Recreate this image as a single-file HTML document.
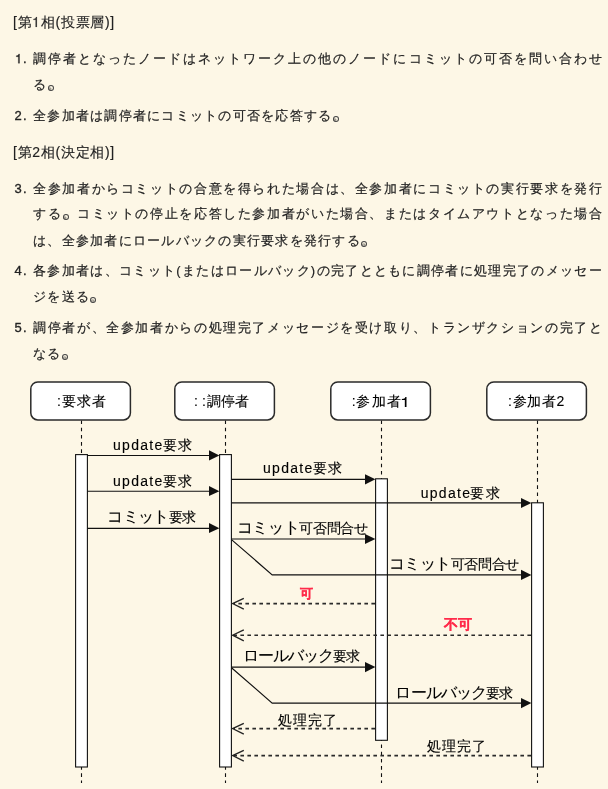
<!DOCTYPE html>
<html><head><meta charset="utf-8">
<style>
html,body{margin:0;padding:0}
body{background:#fdf7e6;width:608px;height:789px;overflow:hidden;position:relative;font-family:"Liberation Sans",sans-serif;font-size:13px;color:#222}
.t{position:absolute;left:33px;width:570px;height:20px;line-height:20px;white-space:nowrap;letter-spacing:1.25px}
.j{text-align:justify;text-align-last:justify;white-space:nowrap}
.n{position:absolute;left:14.5px;height:20px;line-height:20px;letter-spacing:1.25px}
.h{position:absolute;left:13px;height:20px;line-height:20px;white-space:nowrap;letter-spacing:0.7px;font-size:14px}
svg{position:absolute;left:0;top:0}
svg text{font-family:"Liberation Sans",sans-serif;font-size:14px;fill:#000;stroke:#000;stroke-width:0.12px}
.red{fill:#ff2a4a;stroke:#ff2a4a;stroke-width:0.2px;font-weight:bold}
.m{position:relative;color:transparent}
.m::after{content:"";position:absolute;left:0.3px;top:8px;width:4.2px;height:4px;border:1.1px solid #444;border-radius:50%}
#w{position:absolute;left:0;top:0;width:608px;height:789px;will-change:transform}
.t{-webkit-text-stroke:0.2px #222}
.n{-webkit-text-stroke:0.35px #222}
.h{-webkit-text-stroke:0.15px #222}
.one{position:static;display:inline;width:0.556em;height:0.709em;overflow:visible;fill:#222;stroke:#222;stroke-width:20px;vertical-align:baseline}
.n .one{margin-right:1.25px;stroke-width:27px}
.h .one{margin-right:0.7px;stroke-width:11px}
.kk{font-size:16px}
</style></head><body><div id="w">
<div class="h" style="top:12px">[第<svg class="one" viewBox="0 -709 556 709"><path transform="scale(1,-1)" d="M259 505H102V568Q204 581 235.0 604.0Q266 627 289 709H347V0H259Z"/></svg>相(投票層)]</div>
<div class="n" style="top:49px"><svg class="one" viewBox="0 -709 556 709"><path transform="scale(1,-1)" d="M259 505H102V568Q204 581 235.0 604.0Q266 627 289 709H347V0H259Z"/></svg>.</div>
<div class="t j" style="top:49px">調停者となったノードはネットワーク上の他のノードにコミットの可否を問い合わせ</div>
<div class="t" style="top:75px">る<span class="m">。</span></div>
<div class="n" style="top:106px">2.</div>
<div class="t" style="top:106px">全参加者は調停者にコミットの可否を応答する<span class="m">。</span></div>
<div class="h" style="top:142px">[第2相(決定相)]</div>
<div class="n" style="top:179px">3.</div>
<div class="t j" style="top:179px">全参加者からコミットの合意を得られた場合は、全参加者にコミットの実行要求を発行</div>
<div class="t j" style="top:204px">する<span class="m">。</span>コミットの停止を応答した参加者がいた場合、またはタイムアウトとなった場合</div>
<div class="t" style="top:231px">は、全参加者にロールバックの実行要求を発行する<span class="m">。</span></div>
<div class="n" style="top:261px">4.</div>
<div class="t j" style="top:261px">各参加者は、コミット(またはロールバック)の完了とともに調停者に処理完了のメッセー</div>
<div class="t" style="top:287px">ジを送る<span class="m">。</span></div>
<div class="n" style="top:318px">5.</div>
<div class="t j" style="top:318px">調停者が、全参加者からの処理完了メッセージを受け取り、トランザクションの完了と</div>
<div class="t" style="top:344px">なる<span class="m">。</span></div>

<svg width="608" height="789" viewBox="0 0 608 789">
<g stroke="#111" stroke-width="1.1" stroke-dasharray="3.6 3.6" fill="none">
<line x1="81.5" y1="420.5" x2="81.5" y2="783"/>
<line x1="225.5" y1="420.5" x2="225.5" y2="783"/>
<line x1="381.5" y1="420.5" x2="381.5" y2="783"/>
<line x1="537.5" y1="420.5" x2="537.5" y2="783"/>
</g>
<g stroke="#2a2a2a" stroke-width="1.5" fill="#fff">
<rect x="30.8" y="381.9" width="99.6" height="38" rx="7"/>
<rect x="174.8" y="381.9" width="99.6" height="38" rx="7"/>
<rect x="330.8" y="381.9" width="99.6" height="38" rx="7"/>
<rect x="486.8" y="381.9" width="99.6" height="38" rx="7"/>
</g>
<g class="lb">
<text x="57" y="406">:</text><text x="61.8" y="406" textLength="44.6">要求者</text>
<text x="193.9" y="406">:</text><text x="202" y="406">:</text><text x="206.7" y="406" textLength="42.7">調停者</text>
<text x="351.8" y="406">:</text><text x="356.4" y="406" textLength="44.6">参加者</text><path transform="translate(399.9,407) scale(0.019,-0.014)" d="M259 505H102V568Q204 581 235.0 604.0Q266 627 289 709H347V0H259Z" fill="#000"/>
<text x="508" y="406">:</text><text x="512.5" y="406" textLength="43.6">参加者</text><text x="556.6" y="406">2</text>
</g>
<g stroke="#111" stroke-width="1.1" fill="#fff">
<rect x="75.6" y="454.6" width="11.8" height="312.4"/>
<rect x="219.6" y="454.6" width="11.8" height="312.4"/>
<rect x="375.6" y="478.8" width="11.8" height="261.5"/>
<rect x="531.6" y="502.8" width="11.8" height="264.2"/>
</g>
<g stroke="#111" stroke-width="1.15" fill="none">
<line x1="87.5" y1="455.5" x2="210" y2="455.5"/>
<line x1="87.5" y1="491.2" x2="210" y2="491.2"/>
<line x1="87.5" y1="528.3" x2="210" y2="528.3"/>
<line x1="231.5" y1="479.3" x2="366" y2="479.3"/>
<line x1="231.5" y1="502.9" x2="522" y2="502.9"/>
<line x1="231.5" y1="539" x2="366" y2="539"/>
<polyline points="231.5,539.6 272.2,574.9 522,574.9"/>
<line x1="231.5" y1="667.1" x2="366" y2="667.1"/>
<polyline points="231.5,667.7 272.2,703.1 522,703.1"/>
</g>
<g fill="#111">
<polygon points="219.4,455.5 209,450.3 209,460.5"/>
<polygon points="219.4,491.2 209,486.1 209,496.1"/>
<polygon points="219.4,528.3 209,523.1 209,533.1"/>
<polygon points="375.4,479.3 365,474.2 365,484.4"/>
<polygon points="531.4,502.9 521,497.9 521,507.9"/>
<polygon points="375.4,539 365,533.9 365,544.1"/>
<polygon points="531.4,574.9 521,569.8 521,580"/>
<polygon points="375.4,667.1 365,662 365,672.2"/>
<polygon points="531.4,703.1 521,698 521,708.2"/>
</g>
<g stroke="#222" stroke-width="1.3" fill="none">
<g stroke-dasharray="3.6 3.4" stroke-width="1.6" stroke="#2a2a2a">
<line x1="375" y1="603.6" x2="234" y2="603.6"/>
<line x1="531" y1="635.2" x2="234" y2="635.2"/>
<line x1="375" y1="728.6" x2="234" y2="728.6"/>
<line x1="531" y1="755.6" x2="234" y2="755.6"/>
</g>
<polyline points="243.8,598.3 232.6,603.6 243.8,609.2"/>
<polyline points="243.8,629.9 232.6,635.2 243.8,640.8"/>
<polyline points="243.8,723.3 232.6,728.6 243.8,734.2"/>
<polyline points="243.8,750.3 232.6,755.6 243.8,761.2"/>
</g>
<g class="lb">
<text x="113" y="450" textLength="49.3">update</text><text x="162.6" y="450" textLength="29.4">要求</text>
<text x="113" y="485.5" textLength="49.3">update</text><text x="162.6" y="485.5" textLength="29.4">要求</text>
<text x="107.4" y="522" textLength="88.7"><tspan class="kk">コミット</tspan>要求</text>
<text x="263" y="473" textLength="49.3">update</text><text x="312.6" y="473" textLength="29.4">要求</text>
<text x="420.7" y="497.5" textLength="49.3">update</text><text x="470.3" y="497.5" textLength="29.4">要求</text>
<text x="236.6" y="533" textLength="131.3"><tspan class="kk">コミット</tspan>可否問合せ</text>
<text x="388.5" y="568.8" textLength="130.7"><tspan class="kk">コミット</tspan>可否問合せ</text>
<text x="300.3" y="598.3" class="red" style="font-size:12.5px">可</text>
<text x="443.6" y="628.7" class="red" style="font-size:13.8px">不可</text>
<text x="242.6" y="660.8" textLength="117.5"><tspan class="kk">ロールバック</tspan>要求</text>
<text x="395.4" y="697.5" textLength="118"><tspan class="kk">ロールバック</tspan>要求</text>
<text x="277.5" y="724.5" textLength="59.9">処理完了</text>
<text x="427.1" y="750.7" textLength="58.8">処理完了</text>
</g>
</svg>
</div></body></html>
